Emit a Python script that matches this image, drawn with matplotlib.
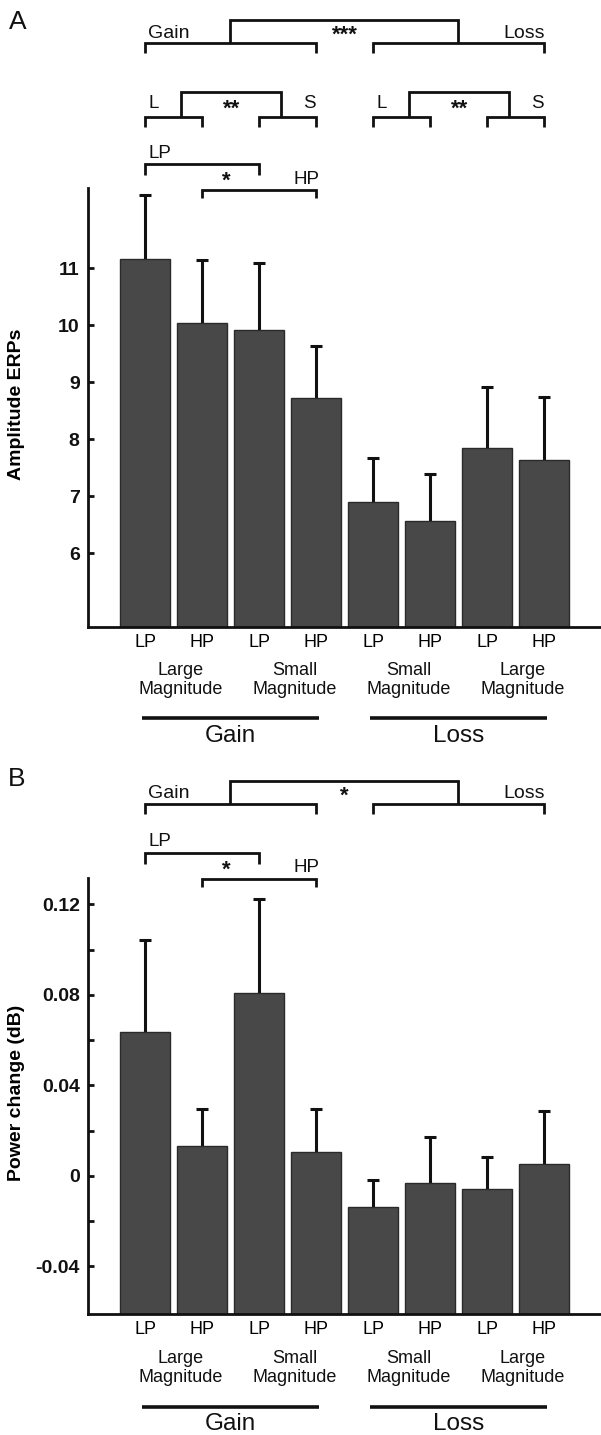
import numpy as np
import matplotlib
matplotlib.use("Agg")
import matplotlib.pyplot as plt
from matplotlib.transforms import blended_transform_factory

plt.rcParams['font.family'] = ['Liberation Sans', 'DejaVu Sans']

# ---------------- data ----------------
conditions = ["LP", "HP", "LP", "HP", "LP", "HP", "LP", "HP"]
magnitude_labels = ["Large\nMagnitude", "Small\nMagnitude", "Small\nMagnitude", "Large\nMagnitude"]
valence_labels = ["Gain", "Loss"]

erp_mean = [11.16, 10.04, 9.91, 8.72, 6.90, 6.57, 7.84, 7.64]
erp_err = [1.13, 1.11, 1.18, 0.91, 0.77, 0.82, 1.08, 1.11]
erp_ticks = [6, 7, 8, 9, 10, 11]

pow_mean = [0.0636, 0.0134, 0.0807, 0.0106, -0.0137, -0.0031, -0.0056, 0.0052]
pow_err = [0.0407, 0.0161, 0.0419, 0.0189, 0.0119, 0.0205, 0.0139, 0.0237]
pow_major = [-0.04, 0.0, 0.04, 0.08, 0.12]
pow_major_labels = ["-0.04", "0", "0.04", "0.08", "0.12"]
pow_minor = [-0.02, 0.02, 0.06, 0.10]

W, H = 601, 1435
fig = plt.figure(figsize=(W / 100, H / 100), dpi=100)

def fy(px):
    return 1 - px / H

BAR = '#484848'
EDGE = '#2a2a2a'
INK = '#111111'

def make_axes(top_px, bot_px):
    return fig.add_axes([88 / W, fy(bot_px), (W - 88) / W, (bot_px - top_px) / H])

def draw_panel(ax, means, errs, ylim, ylabel):
    x = np.arange(len(means))
    ybot = ylim[0]
    heights = np.array(means) - ybot
    ax.bar(x, heights, bottom=ybot, width=0.86, color=BAR, edgecolor=EDGE,
           linewidth=1.0, zorder=2)
    eb = ax.errorbar(x, means, yerr=[np.zeros(len(errs)), errs], fmt='none',
                     ecolor=INK, elinewidth=2.2, capsize=4.2, capthick=2.2, zorder=1)
    caps = eb[1]
    if len(caps) == 2:
        caps[0].set_visible(False)   # no cap at the bar top
    ax.set_xlim(-1, 8)
    ax.set_ylim(*ylim)
    for s in ['top', 'right']:
        ax.spines[s].set_visible(False)
    for s in ['left', 'bottom']:
        ax.spines[s].set_linewidth(2.0)
        ax.spines[s].set_color(INK)
    ax.set_xticks(x)
    ax.set_xticklabels(conditions, fontsize=13)
    ax.tick_params(axis='x', length=0, pad=5)
    ax.tick_params(axis='y', which='both', direction='in', length=4, width=2,
                   labelsize=14, pad=6, colors=INK)
    ax.set_ylabel(ylabel, fontsize=14, fontweight='bold')
    ax.yaxis.set_label_coords(-0.139, 0.508)
    ax.yaxis.label.set_va('center')
    ax.patch.set_alpha(0)

# ----- Panel A -----
axA = make_axes(188, 627)
draw_panel(axA, erp_mean, erp_err, (4.707, 12.41), "Amplitude ERPs")
axA.set_yticks(erp_ticks)
axA.set_yticklabels([str(v) for v in erp_ticks], fontweight='bold')

# ----- Panel B -----
axB = make_axes(878, 1314)
draw_panel(axB, pow_mean, pow_err, (-0.061, 0.1317), "Power change (dB)")
axB.set_yticks(pow_major)
axB.set_yticklabels(pow_major_labels, fontweight='bold')
axB.set_yticks(pow_minor, minor=True)

LW = 2.0

def bl(ax):
    return blended_transform_factory(ax.transData, fig.transFigure)

def line(ax, xs, ys, lw=LW):
    ax.plot(xs, [fy(v) for v in ys], color=INK, lw=lw, transform=bl(ax),
            clip_on=False, solid_capstyle='butt', solid_joinstyle='miter')

def txt(ax, x, ypx, s, ha='center', size=13.5, weight='normal'):
    ax.text(x, fy(ypx), s, transform=bl(ax), ha=ha, va='center', fontsize=size,
            fontweight=weight, color=INK, clip_on=False)

def bottom_labels(ax, y_mag, y_line, y_val):
    for i, lab in enumerate(magnitude_labels):
        ax.text(2 * i + 0.5 + 0.12, fy(y_mag), lab, transform=bl(ax), ha='center',
                va='center', fontsize=13, linespacing=1.22, color=INK, clip_on=False)
    for j, lab in enumerate(valence_labels):
        x0 = 4 * j
        line(ax, [x0 - 0.05, x0 + 3.06], [y_line, y_line], lw=2.6)
        txt(ax, x0 + 1.5, y_val, lab, size=17.5)

def top_gain_loss(ax, y0, star, star_size):
    line(ax, [1.49, 1.49, 5.49, 5.49], [y0 + 23, y0, y0, y0 + 23])
    for x0 in (0, 4):
        line(ax, [x0, x0, x0 + 3, x0 + 3], [y0 + 33, y0 + 23, y0 + 23, y0 + 33])
    txt(ax, 0.06, y0 + 13, "Gain", ha='left', size=14)
    txt(ax, 7.02, y0 + 13, "Loss", ha='right', size=14)
    txt(ax, 3.5, y0 + 15, star, size=star_size, weight='bold')

def lp_hp(ax, y0):
    line(ax, [0, 0, 2, 2], [y0 + 11, y0, y0, y0 + 11])
    line(ax, [1, 1, 3, 3], [y0 + 34, y0 + 26, y0 + 26, y0 + 34])
    txt(ax, 0.06, y0 - 11, "LP", ha='left', size=13.5)
    txt(ax, 3.06, y0 + 15, "HP", ha='right', size=13.5)
    txt(ax, 1.42, y0 + 17, "*", size=16, weight='bold')

# Panel A annotations
top_gain_loss(axA, 20, "***", 16)
for x0 in (0, 4):
    line(axA, [x0 + 0.63, x0 + 0.63, x0 + 2.39, x0 + 2.39], [116.7, 91.7, 91.7, 116.7])
    line(axA, [x0, x0, x0 + 1, x0 + 1], [126.7, 116.7, 116.7, 126.7])
    line(axA, [x0 + 2, x0 + 2, x0 + 3, x0 + 3], [126.7, 116.7, 116.7, 126.7])
    txt(axA, x0 + 0.06, 104, "L", ha='left', size=13.5)
    txt(axA, x0 + 3.0, 104, "S", ha='right', size=13.5)
    txt(axA, x0 + 1.52, 109, "**", size=16, weight='bold')
lp_hp(axA, 164.3)
bottom_labels(axA, 680, 718, 736)

# Panel B annotations
top_gain_loss(axB, 781, "*", 16)
lp_hp(axB, 853)
bottom_labels(axB, 1368, 1407, 1424)

fig.text(18 / W, fy(22), "A", fontsize=19, ha='center', va='center', color=INK)
fig.text(17 / W, fy(779), "B", fontsize=19, ha='center', va='center', color=INK)

fig.savefig("out.png", dpi=100, facecolor='white')
